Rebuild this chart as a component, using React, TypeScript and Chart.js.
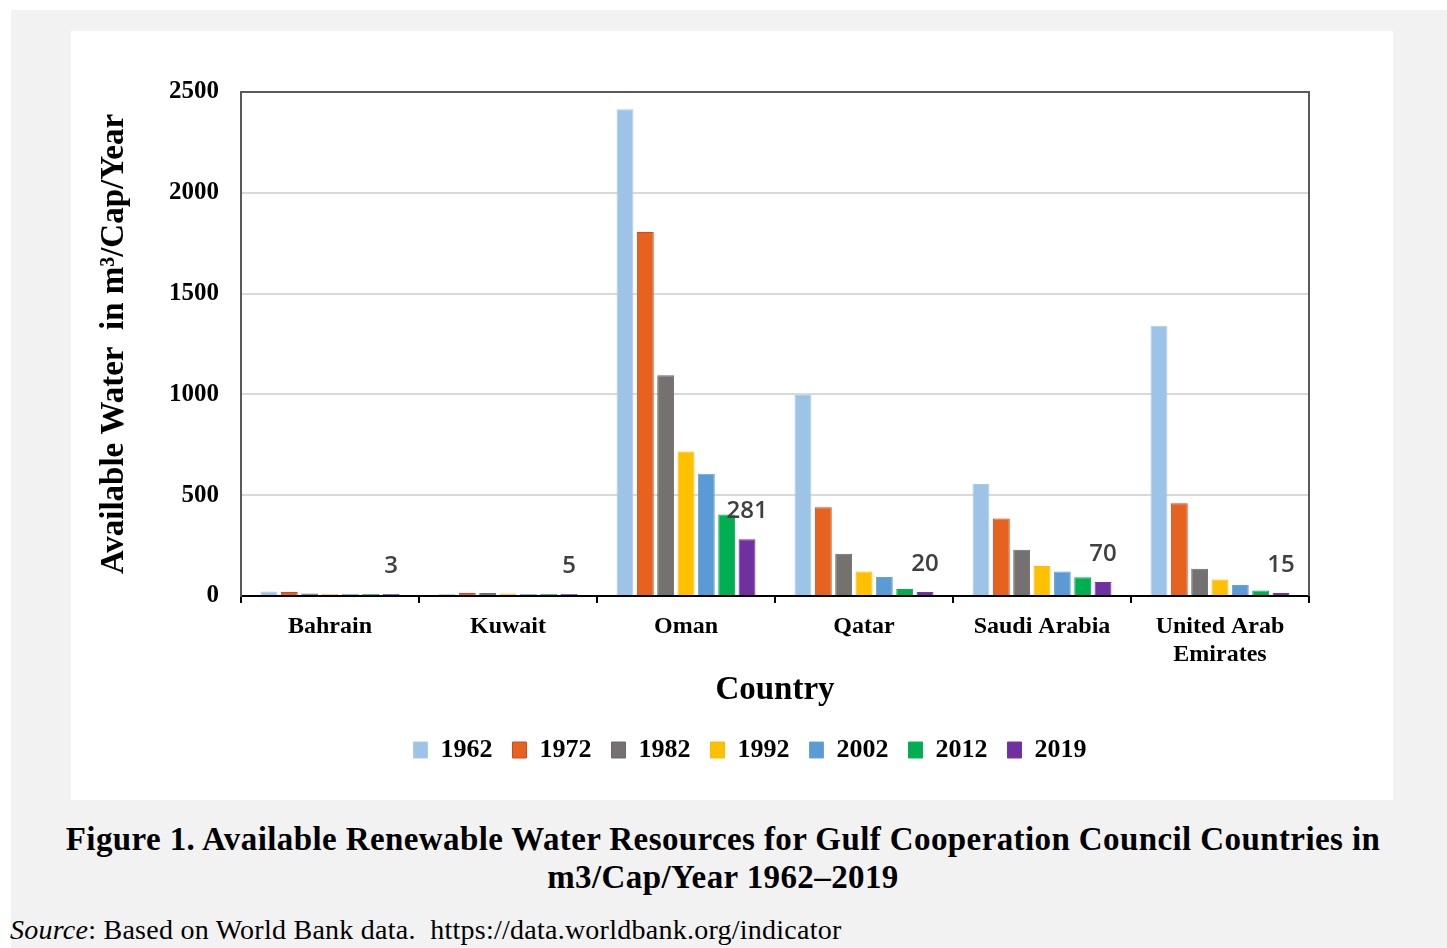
import React, { useEffect, useRef } from 'react';
import { Chart, registerables } from 'chart.js';

Chart.register(...registerables);

const countries: string[][] = [['Bahrain'], ['Kuwait'], ['Oman'], ['Qatar'], ['Saudi Arabia'], ['United Arab', 'Emirates']];
const years = ['1962', '1972', '1982', '1992', '2002', '2012', '2019'];

const v1962 = [22, 5, 2415, 997, 555, 1340];
const v1972 = [20, 15, 1805, 440, 385, 460];
const v1982 = [12, 15, 1095, 210, 230, 135];
const v1992 = [10, 12, 717, 122, 149, 82];
const v2002 = [6, 8, 607, 94, 121, 55];
const v2012 = [5, 7, 404, 35, 93, 27];
const v2019 = [3, 5, 281, 20, 70, 15];

const yMin = 0;
const yMax = 2500;
const yStep = 500;

const fills = ['#9DC3E6', '#E5621F', '#767171', '#FFC000', '#5B9BD5', '#00B050', '#7030A0'];
const borders = ['#A9CBEA', '#D9461E', '#6E6A6A', '#F7BC0A', '#6AA3D8', '#0AAF55', '#7436A2'];

const serif = '"Liberation Serif", "Times New Roman", serif';

export default function App() {
  const ref = useRef<HTMLCanvasElement | null>(null);

  useEffect(() => {
    const canvas = ref.current;
    if (!canvas) return;
    const series = [v1962, v1972, v1982, v1992, v2002, v2012, v2019];

    const framePlugin = {
      id: 'frame',
      afterDatasetsDraw(chart: any) {
        const { ctx, chartArea } = chart;
        ctx.save();
        ctx.strokeStyle = '#595959';
        ctx.lineWidth = 2;
        ctx.beginPath();
        ctx.moveTo(chartArea.left, chartArea.top);
        ctx.lineTo(chartArea.right, chartArea.top);
        ctx.lineTo(chartArea.right, chartArea.bottom);
        ctx.stroke();
        ctx.restore();
      },
    };

    const labelPlugin = {
      id: 'lastLabels',
      afterDatasetsDraw(chart: any) {
        const { ctx } = chart;
        const meta = chart.getDatasetMeta(years.length - 1);
        ctx.save();
        ctx.font = '600 24px "Open Sans", sans-serif';
        ctx.fillStyle = '#404040';
        ctx.textAlign = 'center';
        ctx.textBaseline = 'middle';
        meta.data.forEach((bar: any, i: number) => {
          ctx.fillText(String(v2019[i]), bar.x, bar.y - 28);
        });
        ctx.restore();
      },
    };

    const legendShift = {
      id: 'legendShift',
      afterLayout(chart: any) {
        if (chart.legend) {
          chart.legend.left += 60;
          chart.legend.right += 60;
        }
      },
    };

    const chart = new Chart(canvas, {
      type: 'bar',
      data: {
        labels: countries,
        datasets: years.map((y, i) => ({
          label: y,
          data: series[i],
          backgroundColor: fills[i],
          borderColor: borders[i],
          borderWidth: 1,
          minBarLength: 2,
          categoryPercentage: 0.8,
          barPercentage: 0.83,
        })),
      },
      options: {
        responsive: false,
        animation: false,
        devicePixelRatio: 1,
        events: [],
        layout: { padding: { left: 0, right: 84, top: 61, bottom: 27 } },
        plugins: {
          legend: {
            position: 'bottom',
            labels: {
              boxWidth: 14,
              boxHeight: 16,
              padding: 20,
              color: '#000',
              font: { family: serif, size: 26, weight: 'bold' },
            },
          },
          tooltip: { enabled: false },
        },
        scales: {
          x: {
            grid: {
              display: true,
              drawOnChartArea: false,
              drawTicks: true,
              tickLength: 7,
              color: '#000',
              lineWidth: 2,
              offset: true,
            },
            border: { color: '#000', width: 2 },
            ticks: {
              color: '#000',
              padding: 9,
              maxRotation: 0,
              autoSkip: false,
              font: { family: serif, size: 24, weight: 'bold' },
            },
            title: {
              display: true,
              text: 'Country',
              color: '#000',
              font: { family: serif, size: 33, weight: 'bold' },
              padding: { top: 0, bottom: 7 },
            },
            afterFit: (s: any) => {
              s.height = 121;
            },
          },
          y: {
            min: yMin,
            max: yMax,
            ticks: {
              stepSize: yStep,
              color: '#000',
              padding: 22,
              font: { family: serif, size: 25, weight: 'bold' },
              callback: (v: any) => String(v),
            },
            grid: { color: '#d9d9d9', lineWidth: 2, drawTicks: false },
            border: { color: '#595959', width: 2 },
            title: {
              display: true,
              text: 'Available Water  in m³/Cap/Year',
              color: '#000',
              font: { family: serif, size: 33, weight: 'bold' },
              padding: { top: 24, bottom: 0 },
            },
            afterFit: (s: any) => {
              s.width = 170;
            },
          },
        },
      } as any,
      plugins: [framePlugin, labelPlugin, legendShift],
    });

    return () => chart.destroy();
  }, []);

  return (
    <div style={{ position: 'absolute', left: 0, top: 0, width: 1447, height: 948, background: '#fff', overflow: 'hidden' }}>
      <div style={{ position: 'absolute', left: 11, top: 10, width: 1436, height: 938, background: '#f2f2f2' }} />
      <div style={{ position: 'absolute', left: 71, top: 31, width: 1322, height: 769, background: '#fff' }}>
        <canvas ref={ref} width={1322} height={769} style={{ width: 1322, height: 769, display: 'block' }} />
      </div>
      <div
        style={{
          position: 'absolute',
          left: 11,
          top: 820,
          width: 1424,
          textAlign: 'center',
          fontFamily: serif,
          fontWeight: 'bold',
          fontSize: 33,
          letterSpacing: '0.4px',
          lineHeight: '38px',
          color: '#000',
          whiteSpace: 'nowrap',
        }}
      >
        <div>Figure 1. Available Renewable Water Resources for Gulf Cooperation Council Countries in</div>
        <div>m3/Cap/Year 1962–2019</div>
      </div>
      <div
        style={{
          position: 'absolute',
          left: 10,
          top: 913,
          fontFamily: serif,
          fontSize: 28,
          letterSpacing: '0.25px',
          lineHeight: '34px',
          color: '#000',
          whiteSpace: 'nowrap',
        }}
      >
        <i>Source</i>: Based on World Bank data.&nbsp; https://data.worldbank.org/indicator
      </div>
    </div>
  );
}
